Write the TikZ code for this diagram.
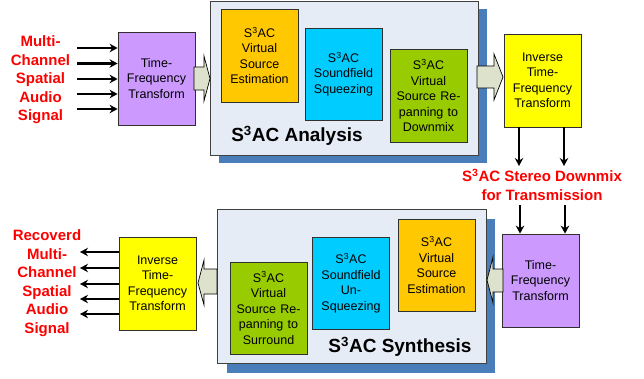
\documentclass[tikz,border=0pt]{standalone}
\usepackage{fontspec}
\setmainfont{Liberation Sans}
\usetikzlibrary{arrows.meta}
\definecolor{cOrange}{HTML}{FFC800}
\definecolor{cCyan}{HTML}{00CCFF}
\definecolor{cGreen}{HTML}{99CC00}
\definecolor{cPurple}{HTML}{CC99FF}
\definecolor{cYellow}{HTML}{FFFF00}
\definecolor{panelfill}{HTML}{E6ECF6}
\definecolor{panelline}{HTML}{404040}
\definecolor{shadowblue}{HTML}{4A7EBB}
\definecolor{arrowfill}{HTML}{DDE2CC}
\definecolor{boxline}{HTML}{303030}
\definecolor{sigred}{HTML}{FF0000}
\newcommand{\sss}{S\textsuperscript{3}AC}
\begin{document}
\begin{tikzpicture}[x=1pt,y=-1pt,
  box/.style={draw=boxline, line width=0.8pt, minimum width=77pt, minimum height=93pt,
    inner sep=0pt, align=center, text width=76pt, font=\fontsize{12.5}{15.5}\selectfont},
  panel/.style={draw=panelline, fill=panelfill, line width=1pt, inner sep=0pt},
  shadowbox/.style={fill=shadowblue, inner sep=0pt},
  redlabel/.style={text=sigred, font=\bfseries\fontsize{15}{18.5}\selectfont, align=center, inner sep=0pt},
  paneltitle/.style={font=\bfseries\fontsize{19}{22}\selectfont, inner sep=0pt},
  sig/.style={line width=2.2pt, -{Stealth[length=8pt,width=8.5pt]}},
  blockarrow/.style={draw=black, fill=arrowfill, line width=0.7pt, line join=miter}]
\useasboundingbox (0,0) rectangle (644,378);

% ---------------- Analysis (top) ----------------
\node[shadowbox, minimum width=268pt, minimum height=154pt] (pAs) at (353,86) {};
\node[panel, minimum width=268pt, minimum height=154pt] (pA) at (344,78) {};
\node[box, fill=cOrange] (oA) at (259.5,55.5) {\sss\\Virtual\\Source\\Estimation};
\node[box, fill=cCyan, minimum height=92pt] (cA) at (343.5,74) {\sss\\Soundfield\\Squeezing};
\node[box, fill=cGreen] (gA) at (428.5,95.5) {\sss\\Virtual\\Source Re-\\panning to\\Downmix};
\node[paneltitle] (tA) at (297,136) {\sss\ Analysis};

\node[box, fill=cPurple] (tf1) at (156.5,78.5) {Time-\\Frequency\\Transform};
\node[box, fill=cYellow] (itf1) at (542.5,80.5) {Inverse\\Time-\\Frequency\\Transform};

\node[redlabel] (inlab) at (40.5,80) {Multi-\\Channel\\Spatial\\Audio\\Signal};

\foreach \i/\yy in {1/48,2/63.5,3/79,4/94,5/109}{
  \coordinate (in\i) at (77,\yy);
  \draw[sig] (in\i) -- (in\i -| tf1.west);
}

% block arrows top
\draw[blockarrow] (194,67) -- (204,67) -- (204,56) -- (210,78.5) -- (204,101) -- (204,90) -- (194,90) -- cycle;
\draw[blockarrow] (477,66) -- (494,66) -- (494,54) -- (503,77) -- (494,100) -- (494,88) -- (477,88) -- cycle;

% downmix arrows
\coordinate (d1) at (519,166);
\coordinate (d2) at (564,166);
\draw[sig] (d1 |- itf1.south) -- (d1);
\draw[sig] (d2 |- itf1.south) -- (d2);
\node[redlabel] (dmx) at (542,185) {\sss\ Stereo Downmix\\for Transmission};
\coordinate (u1) at (520,205);
\coordinate (u2) at (565,205);

% ---------------- Synthesis (bottom) ----------------
\node[shadowbox, minimum width=268pt, minimum height=154pt] (pSs) at (361,296) {};
\node[panel, minimum width=269pt, minimum height=154pt] (pS) at (351.5,286) {};
\node[box, fill=cOrange, minimum height=92pt] (oS) at (436.5,265) {\sss\\Virtual\\Source\\Estimation};
\node[box, fill=cCyan, minimum height=92pt] (cS) at (351,283) {\sss\\Soundfield\\Un-\\Squeezing};
\node[box, fill=cGreen, minimum height=92pt] (gS) at (268.5,308) {\sss\\Virtual\\Source Re-\\panning to\\Surround};
\node[paneltitle] (tS) at (400,347) {\sss\ Synthesis};

\node[box, fill=cPurple] (tf2) at (540.5,280.5) {Time-\\Frequency\\Transform};
\node[box, fill=cYellow] (itf2) at (157.5,283.5) {Inverse\\Time-\\Frequency\\Transform};

\draw[sig] (u1) -- (u1 |- tf2.north);
\draw[sig] (u2) -- (u2 |- tf2.north);

% block arrows bottom
\draw[blockarrow] (217,269) -- (204,269) -- (204,260) -- (198,283) -- (204,305) -- (204,294) -- (217,294) -- cycle;
\draw[blockarrow] (503,269) -- (493,269) -- (493,257) -- (487,280) -- (493,303) -- (493,292) -- (503,292) -- cycle;

\node[redlabel] (outlab) at (47,283) {Recoverd\\Multi-\\Channel\\Spatial\\Audio\\Signal};

\foreach \i/\yy in {1/252,2/268,3/284,4/299,5/314}{
  \coordinate (out\i) at (80,\yy);
  \draw[sig] (out\i -| itf2.west) -- (out\i);
}
\end{tikzpicture}
\end{document}
